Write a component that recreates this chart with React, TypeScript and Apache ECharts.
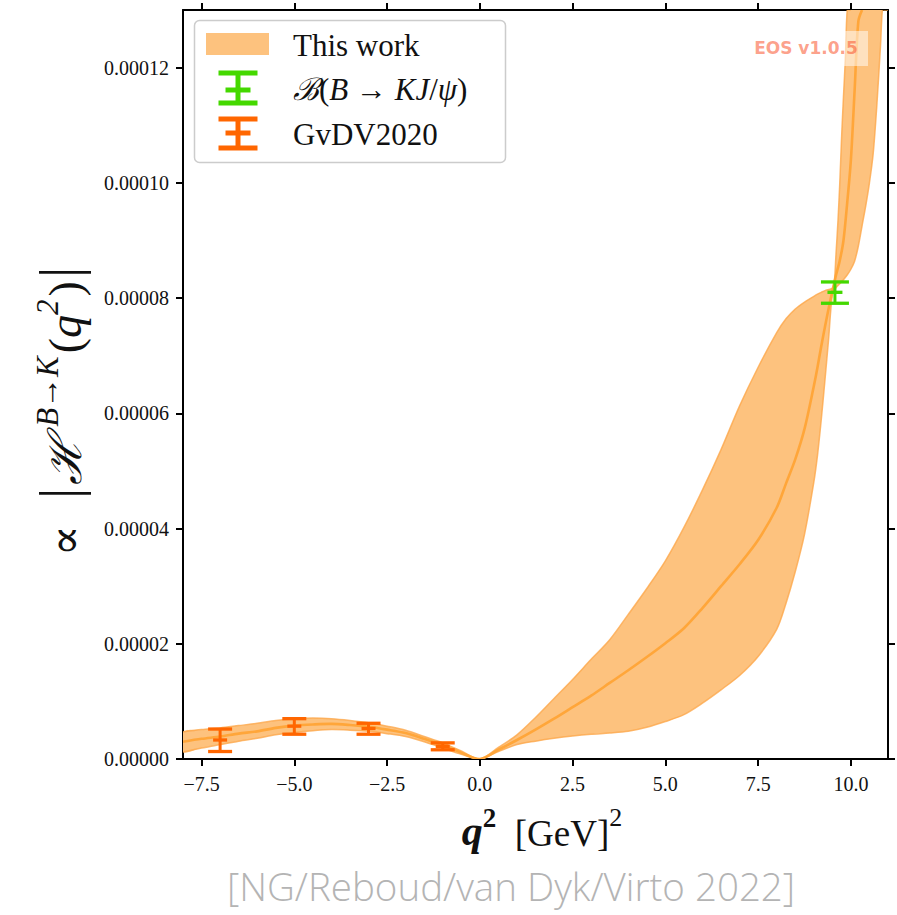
import { useEffect, useRef } from 'react';
import * as echarts from 'echarts';

// Axis settings (y values are in units of 1e-5)
const X_MIN = -8;
const X_MAX = 11;
const Y_MIN = 0;
const Y_MAX = 13;
const xTicks = [-7.5, -5, -2.5, 0, 2.5, 5, 7.5, 10];
const yTicks = [0, 2, 4, 6, 8, 10, 12];

// "This work" band: upper edge
const upperQ = [-8, -7.5, -7, -6.5, -6, -5.5, -5, -4.5, -4, -3.5, -3, -2.5, -2, -1.5, -1, -0.5, 0,
  0.5, 1, 1.5, 2, 2.5, 3, 3.5, 4, 4.5, 5, 5.5, 6, 6.5, 7, 7.5, 8,
  8.25, 8.5, 8.75, 9, 9.1, 9.2, 9.3, 9.4, 9.5,
  9.55, 9.6, 9.65, 9.7, 9.75, 9.8, 9.85, 9.9, 9.95, 10];
const upperV = [0.47, 0.51, 0.54, 0.58, 0.62, 0.67, 0.70, 0.71, 0.70, 0.67, 0.63, 0.57, 0.50, 0.39, 0.28, 0.14, 0,
  0.2, 0.42, 0.72, 1.05, 1.38, 1.73, 2.07, 2.51, 2.96, 3.44, 4.02, 4.67, 5.37, 6.13, 6.80, 7.40,
  7.64, 7.81, 7.93, 8.03, 8.07, 8.10, 8.13, 8.15, 8.17,
  8.25, 8.78, 9.32, 9.99, 10.8, 11.5, 12.15, 13.0, 13.9, 14.8];

// band: lower edge
const lowerQ = [-8, -7.5, -7, -6.5, -6, -5.5, -5, -4.5, -4, -3.5, -3, -2.5, -2, -1.5, -1, -0.5, 0,
  0.5, 1, 1.5, 2, 2.5, 3, 3.5, 4, 4.5, 5, 5.5, 6, 6.5, 7, 7.5, 8,
  8.25, 8.5, 8.75, 9, 9.1, 9.2, 9.3, 9.4, 9.5,
  9.6, 9.7, 9.8, 9.9, 10, 10.1, 10.2, 10.3, 10.4, 10.5, 10.6, 10.7, 10.8, 10.85, 10.9, 11];
const lowerV = [0.12, 0.19, 0.25, 0.31, 0.36, 0.42, 0.46, 0.49, 0.51, 0.50, 0.48, 0.44, 0.39, 0.30, 0.19, 0.08, 0,
  0.13, 0.25, 0.31, 0.36, 0.40, 0.43, 0.45, 0.48, 0.55, 0.65, 0.77, 0.97, 1.20, 1.45, 1.78, 2.25,
  2.70, 3.25, 3.90, 4.80, 5.27, 5.88, 6.57, 7.29, 8.05,
  8.18, 8.25, 8.32, 8.40, 8.50, 8.64, 8.90, 9.25, 9.60, 10.0, 10.5, 11.35, 12.4, 13.1, 13.9, 15.5];

// band: central curve
const centralQ = [-8, -7.5, -7, -6.5, -6, -5.5, -5, -4.5, -4, -3.5, -3, -2.5, -2, -1.5, -1, -0.5, 0,
  0.5, 1, 1.5, 2, 2.5, 3, 3.5, 4, 4.5, 5, 5.5, 6, 6.5, 7, 7.5, 8,
  8.25, 8.5, 8.75, 9, 9.1, 9.2, 9.3, 9.4, 9.5,
  9.6, 9.7, 9.8, 9.9, 10, 10.1, 10.2, 10.3];
const centralV = [0.30, 0.35, 0.39, 0.44, 0.48, 0.54, 0.58, 0.60, 0.61, 0.59, 0.56, 0.51, 0.45, 0.35, 0.24, 0.11, 0,
  0.16, 0.33, 0.51, 0.70, 0.90, 1.10, 1.32, 1.54, 1.77, 2.01, 2.27, 2.62, 3.00, 3.38, 3.80, 4.36,
  4.78, 5.20, 5.73, 6.47, 6.80, 7.16, 7.50, 7.82, 8.12,
  8.40, 8.65, 9.00, 9.65, 10.4, 11.6, 12.8, 14.0];

// GvDV2020 points
const gvdvQ = [-7, -5, -3, -1];
const gvdvMid = [0.33, 0.57, 0.53, 0.22];
const gvdvLow = [0.13, 0.43, 0.43, 0.16];
const gvdvHigh = [0.52, 0.70, 0.62, 0.28];

// B(B -> K J/psi) point
const jpsiQ = [9.57];
const jpsiMid = [8.10];
const jpsiLow = [7.91];
const jpsiHigh = [8.28];

const BAND_FILL = '#FDC27E';
const BAND_EDGE = 'rgba(252,168,75,0.8)';
const CENTRAL = '#FFA63A';
const GREEN = '#44D800';
const RED = '#FF6600';
const SERIF = '"Liberation Serif", "DejaVu Serif", serif';
const SMOOTH = 0.3;

function errorBarRender(capW: number, markW: number, color: string) {
  return (params: any, api: any) => {
    const q = api.value(0);
    const mid = api.value(1);
    const lo = api.value(2);
    const hi = api.value(3);
    const pLo = api.coord([q, lo]);
    const pHi = api.coord([q, hi]);
    const pMid = api.coord([q, mid]);
    const st = { stroke: color, lineWidth: 3.3 };
    return {
      type: 'group',
      children: [
        { type: 'line', shape: { x1: pLo[0], y1: pLo[1], x2: pHi[0], y2: pHi[1] }, style: { stroke: color, lineWidth: 3 } },
        { type: 'line', shape: { x1: pLo[0] - capW / 2, y1: pLo[1], x2: pLo[0] + capW / 2, y2: pLo[1] }, style: st },
        { type: 'line', shape: { x1: pHi[0] - capW / 2, y1: pHi[1], x2: pHi[0] + capW / 2, y2: pHi[1] }, style: st },
        { type: 'line', shape: { x1: pMid[0] - markW / 2, y1: pMid[1], x2: pMid[0] + markW / 2, y2: pMid[1] }, style: st },
      ],
    };
  };
}

function legendErrIcon(cx: number, yTop: number, yMid: number, yBot: number, color: string) {
  return [
    { type: 'line', shape: { x1: cx, y1: yTop, x2: cx, y2: yBot }, style: { stroke: color, lineWidth: 5 }, z: 20 },
    { type: 'line', shape: { x1: cx - 19.5, y1: yTop, x2: cx + 19.5, y2: yTop }, style: { stroke: color, lineWidth: 5 }, z: 20 },
    { type: 'line', shape: { x1: cx - 19.5, y1: yBot, x2: cx + 19.5, y2: yBot }, style: { stroke: color, lineWidth: 5 }, z: 20 },
    { type: 'line', shape: { x1: cx - 12.5, y1: yMid, x2: cx + 12.5, y2: yMid }, style: { stroke: color, lineWidth: 5 }, z: 20 },
  ];
}

export default function App() {
  const ref = useRef<HTMLDivElement>(null);
  useEffect(() => {
    if (!ref.current) return;
    const chart = echarts.init(ref.current, null, { renderer: 'svg' });

    const axisCommon = {
      type: 'value',
      splitLine: { show: false },
      axisLine: { show: true, onZero: false, lineStyle: { color: '#000', width: 2 } },
      axisTick: { show: true, length: 7, lineStyle: { color: '#000', width: 2 } },
    };

    const bandRender = (params: any, api: any) => {
      const cs = params.coordSys;
      const rect = { x: cs.x, y: cs.y, width: cs.width, height: cs.height };
      const toPts = (q: number[], v: number[]) => q.map((x, i) => api.coord([x, v[i]]));
      const up = toPts(upperQ, upperV);
      const lo = toPts(lowerQ, lowerV);
      const ce = toPts(centralQ, centralV);
      const poly = up.concat(lo.slice().reverse());
      return {
        type: 'group',
        children: [
          {
            type: 'polygon', z2: 1,
            shape: { points: echarts.graphic.clipPointsByRect(poly, rect), smooth: SMOOTH },
            style: { fill: BAND_FILL },
          },
          {
            type: 'polyline', z2: 2,
            shape: { points: echarts.graphic.clipPointsByRect(up, rect), smooth: SMOOTH },
            style: { fill: 'none', stroke: BAND_EDGE, lineWidth: 1.5 },
          },
          {
            type: 'polyline', z2: 2,
            shape: { points: echarts.graphic.clipPointsByRect(lo, rect), smooth: SMOOTH },
            style: { fill: 'none', stroke: BAND_EDGE, lineWidth: 1.5 },
          },
          {
            type: 'polyline', z2: 3,
            shape: { points: echarts.graphic.clipPointsByRect(ce, rect), smooth: SMOOTH },
            style: { fill: 'none', stroke: CENTRAL, lineWidth: 2.6 },
          },
        ],
      };
    };

    const option: any = {
      animation: false,
      backgroundColor: '#fff',
      grid: { left: 183, right: 9, top: 10, bottom: 156, containLabel: false },
      xAxis: [
        {
          ...axisCommon,
          position: 'bottom',
          min: X_MIN,
          max: X_MAX,
          axisTick: { ...axisCommon.axisTick, customValues: xTicks },
          axisLabel: {
            customValues: xTicks,
            margin: 15,
            fontFamily: SERIF,
            fontSize: 20,
            color: '#111',
            formatter: (v: number) => v.toFixed(1).replace('-', '\u2212'),
          },
        },
        {
          ...axisCommon,
          position: 'top',
          min: X_MIN,
          max: X_MAX,
          axisTick: { ...axisCommon.axisTick, customValues: xTicks },
          axisLabel: { show: false },
        },
      ],
      yAxis: [
        {
          ...axisCommon,
          position: 'left',
          min: Y_MIN,
          max: Y_MAX,
          axisTick: { ...axisCommon.axisTick, customValues: yTicks },
          axisLabel: {
            customValues: yTicks,
            margin: 14,
            fontFamily: SERIF,
            fontSize: 20,
            color: '#111',
            formatter: (v: number) => (v / 1e5).toFixed(5),
          },
        },
        {
          ...axisCommon,
          position: 'right',
          min: Y_MIN,
          max: Y_MAX,
          axisTick: { ...axisCommon.axisTick, customValues: yTicks },
          axisLabel: { show: false },
        },
      ],
      series: [
        {
          type: 'custom',
          name: 'This work',
          xAxisIndex: 0,
          yAxisIndex: 0,
          clip: true,
          silent: true,
          z: 2,
          data: [[0, 0]],
          renderItem: bandRender,
        },
        {
          type: 'custom', name: 'GvDV2020', z: 5, silent: true,
          data: gvdvQ.map((q, i) => [q, gvdvMid[i], gvdvLow[i], gvdvHigh[i]]),
          encode: { x: 0, y: 1 },
          renderItem: errorBarRender(24, 14, RED),
        },
        {
          type: 'custom', name: 'jpsi', z: 5, silent: true,
          data: jpsiQ.map((q, i) => [q, jpsiMid[i], jpsiLow[i], jpsiHigh[i]]),
          encode: { x: 0, y: 1 },
          renderItem: errorBarRender(28, 15, GREEN),
        },
      ],
      graphic: [
        // EOS watermark
        { type: 'rect', shape: { x: 744, y: 31, width: 124, height: 35 }, style: { fill: 'rgba(255,255,255,0.5)' }, z: 10 },
        {
          type: 'text', x: 806, y: 48, z: 11,
          style: {
            text: 'EOS v1.0.5', fill: 'rgba(250,80,40,0.55)', font: 'bold 17px "DejaVu Sans", sans-serif',
            align: 'center', verticalAlign: 'middle',
          },
        },
        // legend box
        {
          type: 'rect', shape: { x: 194.5, y: 20.5, width: 311, height: 142, r: 5 }, z: 15,
          style: { fill: 'rgba(255,255,255,0.85)', stroke: '#cccccc', lineWidth: 1.5 },
        },
        { type: 'rect', shape: { x: 206, y: 33, width: 63, height: 22 }, style: { fill: BAND_FILL }, z: 20 },
        {
          type: 'text', x: 293, y: 45, z: 20,
          style: { text: 'This work', fill: '#111', font: `31px ${SERIF}`, align: 'left', verticalAlign: 'middle' },
        },
        ...legendErrIcon(238, 73, 90, 103, GREEN),
        {
          type: 'text', x: 293, y: 89, z: 20,
          style: {
            text: '{s|\u212C}{n|(}{i|B}{n| \u2192 }{i|KJ}{n|/}{i|\u03C8}{n|)}',
            align: 'left', verticalAlign: 'middle', fill: '#111',
            rich: {
              s: { font: `italic 31px ${SERIF}`, fill: '#111' },
              n: { font: `31px ${SERIF}`, fill: '#111' },
              i: { font: `italic 31px ${SERIF}`, fill: '#111' },
            },
          },
        },
        ...legendErrIcon(238, 119, 133, 148, RED),
        {
          type: 'text', x: 293, y: 134, z: 20,
          style: { text: 'GvDV2020', fill: '#111', font: `31px ${SERIF}`, align: 'left', verticalAlign: 'middle' },
        },
        // y-axis title
        {
          type: 'text', x: 60, y: 410, rotation: Math.PI / 2, z: 20,
          style: {
            text: '{n|\u221D  }{b||}{h|\u210B}{sup1|B\u2192K}{n|(}{i|q}{sup|2}{n|)}{b||}',
            align: 'center', verticalAlign: 'middle', fill: '#111',
            rich: {
              n: { font: `46px ${SERIF}`, fill: '#111', verticalAlign: 'bottom', padding: [10, 0, 0, 0] },
              i: { font: `italic 46px ${SERIF}`, fill: '#111', verticalAlign: 'bottom', padding: [10, 0, 0, 0] },
              h: { font: `italic 46px ${SERIF}`, fill: '#111', verticalAlign: 'bottom', padding: [10, 0, 0, 0] },
              b: { font: `56px ${SERIF}`, fill: '#111', verticalAlign: 'bottom', padding: [0, 3, 0, 3] },
              sup1: { font: `italic 31px ${SERIF}`, fill: '#111', verticalAlign: 'top', padding: [0, 3, 0, 9] },
              sup: { font: `italic 31px ${SERIF}`, fill: '#111', verticalAlign: 'top', padding: [0, 3, 0, 0] },
            },
          },
        },
        // x-axis title
        {
          type: 'text', x: 542, y: 828, z: 20,
          style: {
            text: '{q|q}{s|2}{n|  [GeV]}{t|2}',
            align: 'center', verticalAlign: 'middle', fill: '#111',
            rich: {
              q: { font: `bold italic 42px ${SERIF}`, fill: '#111', verticalAlign: 'bottom', padding: [6, 0, 0, 0] },
              s: { font: `bold 27px ${SERIF}`, fill: '#111', verticalAlign: 'top' },
              n: { font: `37px ${SERIF}`, fill: '#111', verticalAlign: 'bottom', padding: [6, 0, 0, 0] },
              t: { font: `26px ${SERIF}`, fill: '#111', verticalAlign: 'top' },
            },
          },
        },
        // source
        {
          type: 'text', x: 511, y: 886, z: 20,
          style: {
            text: '[NG/Reboud/van Dyk/Virto 2022]', fill: '#b4b4b4',
            font: '300 38.5px "Open Sans", "Noto Sans", sans-serif', align: 'center', verticalAlign: 'middle',
          },
        },
      ],
    };

    chart.setOption(option);
    return () => chart.dispose();
  }, []);

  return <div ref={ref} style={{ position: 'absolute', left: 0, top: 0, width: 897, height: 915 }} />;
}
